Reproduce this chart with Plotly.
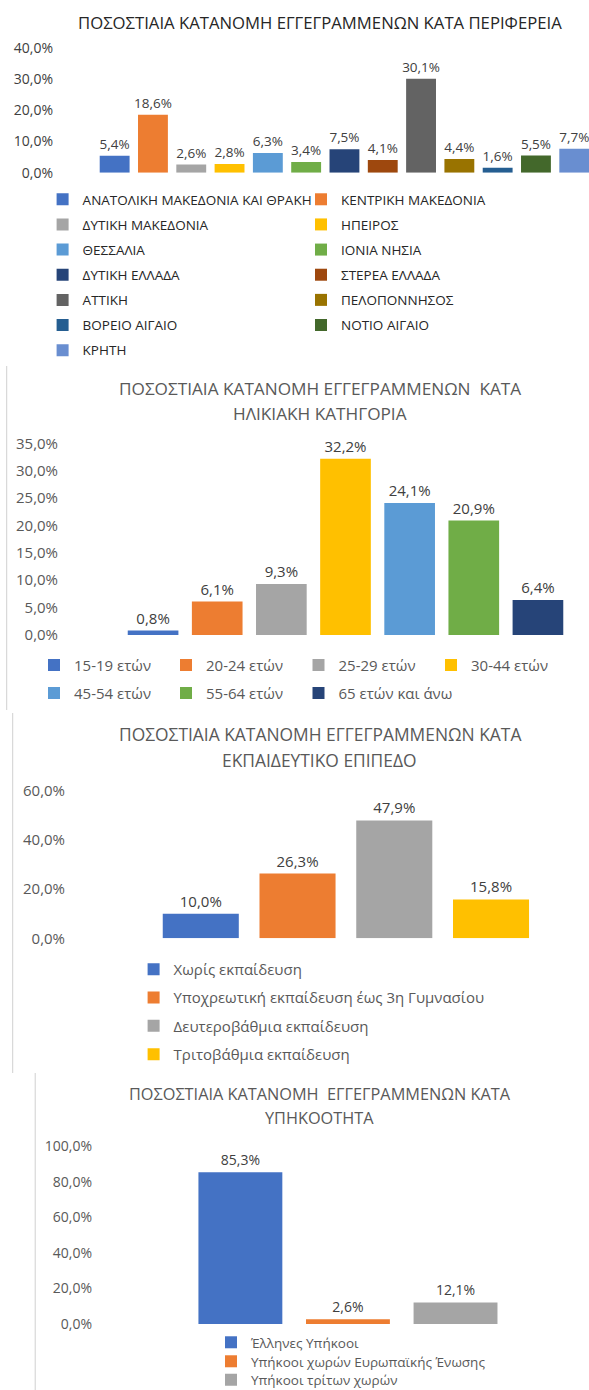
import plotly.graph_objects as go

W, H = 589, 1390
def fx(x): return x / W
def fy(y): return 1 - y / H

FONT = "Open Sans"

# ---------------- data ----------------
region_names = ["ΑΝΑΤΟΛΙΚΗ ΜΑΚΕΔΟΝΙΑ ΚΑΙ ΘΡΑΚΗ", "ΚΕΝΤΡΙΚΗ ΜΑΚΕΔΟΝΙΑ", "ΔΥΤΙΚΗ ΜΑΚΕΔΟΝΙΑ",
                "ΗΠΕΙΡΟΣ", "ΘΕΣΣΑΛΙΑ", "ΙΟΝΙΑ ΝΗΣΙΑ", "ΔΥΤΙΚΗ ΕΛΛΑΔΑ", "ΣΤΕΡΕΑ ΕΛΛΑΔΑ",
                "ΑΤΤΙΚΗ", "ΠΕΛΟΠΟΝΝΗΣΟΣ", "ΒΟΡΕΙΟ ΑΙΓΑΙΟ", "ΝΟΤΙΟ ΑΙΓΑΙΟ", "ΚΡΗΤΗ"]
region_values = [5.4, 18.6, 2.6, 2.8, 6.3, 3.4, 7.5, 4.1, 30.1, 4.4, 1.6, 5.5, 7.7]
region_colors = ["#4472C4", "#ED7D31", "#A5A5A5", "#FFC000", "#5B9BD5", "#70AD47", "#264478",
                 "#9E480E", "#636363", "#997300", "#255E91", "#43682B", "#698ED0"]
region_ticks = [0, 10, 20, 30, 40]

age_names = ["15-19 ετών", "20-24 ετών", "25-29 ετών", "30-44 ετών",
             "45-54 ετών", "55-64 ετών", "65 ετών και άνω"]
age_values = [0.8, 6.1, 9.3, 32.2, 24.1, 20.9, 6.4]
age_colors = ["#4472C4", "#ED7D31", "#A5A5A5", "#FFC000", "#5B9BD5", "#70AD47", "#264478"]
age_ticks = [0, 5, 10, 15, 20, 25, 30, 35]

edu_names = ["Χωρίς εκπαίδευση", "Υποχρεωτική εκπαίδευση έως 3η Γυμνασίου",
             "Δευτεροβάθμια εκπαίδευση", "Τριτοβάθμια εκπαίδευση"]
edu_values = [10.0, 26.3, 47.9, 15.8]
edu_colors = ["#4472C4", "#ED7D31", "#A5A5A5", "#FFC000"]
edu_ticks = [0, 20, 40, 60]

nat_names = ["Έλληνες Υπήκοοι", "Υπήκοοι χωρών Ευρωπαϊκής Ένωσης", "Υπήκοοι τρίτων χωρών"]
nat_values = [85.3, 2.6, 12.1]
nat_colors = ["#4472C4", "#ED7D31", "#A5A5A5"]
nat_ticks = [0, 20, 40, 60, 80, 100]

titles = [
    ["ΠΟΣΟΣΤΙΑΙΑ ΚΑΤΑΝΟΜΗ ΕΓΓΕΓΡΑΜΜΕΝΩΝ ΚΑΤΑ ΠΕΡΙΦΕΡΕΙΑ"],
    ["ΠΟΣΟΣΤΙΑΙΑ ΚΑΤΑΝΟΜΗ ΕΓΓΕΓΡΑΜΜΕΝΩΝ\u00a0 ΚΑΤΑ", "ΗΛΙΚΙΑΚΗ ΚΑΤΗΓΟΡΙΑ"],
    ["ΠΟΣΟΣΤΙΑΙΑ ΚΑΤΑΝΟΜΗ ΕΓΓΕΓΡΑΜΜΕΝΩΝ ΚΑΤΑ", "ΕΚΠΑΙΔΕΥΤΙΚΟ ΕΠΙΠΕΔΟ"],
    ["ΠΟΣΟΣΤΙΑΙΑ ΚΑΤΑΝΟΜΗ\u00a0 ΕΓΓΕΓΡΑΜΜΕΝΩΝ ΚΑΤΑ", "ΥΠΗΚΟΟΤΗΤΑ"],
]

def pct(v):
    return ("%.1f%%" % v).replace(".", ",")

# ---------------- layout geometry (pixels) ----------------
panels = [
    dict(names=region_names, values=region_values, colors=region_colors, ticks=region_ticks,
         xdom=(95.5, 589), xrange=(-0.5, 12.385), ydom=(48, 172.7), yrange=(0, 40),
         width=0.78, ypos=53, tickfont=14, tickcolor="#404040", labfont=13.5, labcolor="#404040",
         title_y=[22], title_size=16.7, title_color="#262626",
         legends=lambda i: "legend" if i % 2 == 0 else "legend2"),
    dict(names=age_names, values=age_values, colors=age_colors, ticks=age_ticks,
         xdom=(121, 570), xrange=(-0.5, 6.5), ydom=(443.3, 635), yrange=(0, 35),
         width=0.79, ypos=58, tickfont=15, tickcolor="#595959", labfont=15, labcolor="#404040",
         title_y=[388, 413], title_size=17.2, title_color="#595959",
         legends=lambda i: ["legend3", "legend4", "legend5", "legend6"][i % 4]),
    dict(names=edu_names, values=edu_values, colors=edu_colors, ticks=edu_ticks,
         xdom=(152.4, 539.4), xrange=(-0.5, 3.5), ydom=(790.7, 938.3), yrange=(0, 60),
         width=0.786, ypos=65, tickfont=15, tickcolor="#595959", labfont=15, labcolor="#404040",
         title_y=[734, 760], title_size=17.4, title_color="#595959",
         legends=lambda i: "legend7"),
    dict(names=nat_names, values=nat_values, colors=nat_colors, ticks=nat_ticks,
         xdom=(186.6, 509.3), xrange=(-0.5, 2.5), ydom=(1146, 1324), yrange=(0, 100),
         width=0.78, ypos=92, tickfont=14, tickcolor="#595959", labfont=14, labcolor="#404040",
         title_y=[1094, 1118], title_size=16.3, title_color="#595959",
         legends=lambda i: ["legend8", "legend9", "legend10"][i]),
]

fig = go.Figure()
annotations = []
layout_axes = {}

for k, p in enumerate(panels):
    sfx = "" if k == 0 else str(k + 1)
    xref, yref = "x" + sfx, "y" + sfx
    for i, (nm, v, c) in enumerate(zip(p["names"], p["values"], p["colors"])):
        fig.add_trace(go.Bar(
            x=[i], y=[v], width=[p["width"]], name=nm,
            marker=dict(color=c, line=dict(width=0)),
            texttemplate="%{y:.1f}%", textposition="outside", constraintext="none",
            cliponaxis=False,
            outsidetextfont=dict(family=FONT, size=p["labfont"], color=p["labcolor"]),
            xaxis=xref, yaxis=yref, legend=p["legends"](i), legendgroup="g%d_%d" % (k, i),
            hoverinfo="skip",
        ))
    layout_axes["xaxis" + sfx] = dict(domain=[fx(p["xdom"][0]), fx(p["xdom"][1])],
                                      range=list(p["xrange"]), anchor=yref, visible=False)
    layout_axes["yaxis" + sfx] = dict(domain=[fy(p["ydom"][1]), fy(p["ydom"][0])],
                                      range=list(p["yrange"]), anchor="free", position=fx(p["ypos"]),
                                      tickmode="array", tickvals=p["ticks"],
                                      ticktext=[pct(t) for t in p["ticks"]],
                                      showgrid=False, zeroline=False, showline=False, ticks="",
                                      automargin=False,
                                      tickfont=dict(family=FONT, size=p["tickfont"], color=p["tickcolor"]))
    for line, ty in zip(titles[k], p["title_y"]):
        annotations.append(dict(text=line, x=fx(319.5), y=fy(ty), xref="paper", yref="paper",
                                xanchor="center", yanchor="middle", showarrow=False,
                                font=dict(family=FONT, size=p["title_size"], color=p["title_color"])))

def vlegend(x, top, size, gap, color):
    return dict(x=fx(x), y=fy(top), xanchor="left", yanchor="top", orientation="v",
                traceorder="grouped", tracegroupgap=gap, bgcolor="rgba(0,0,0,0)",
                font=dict(family=FONT, size=size, color=color), borderwidth=0)

legends = dict(
    legend=vlegend(42.6, 184, 13.5, 4.6, "#262626"),
    legend2=vlegend(301, 184, 13.5, 4.6, "#262626"),
    legend3=vlegend(34, 648.7, 15, 5.5, "#595959"),
    legend4=vlegend(166, 648.7, 15, 5.5, "#595959"),
    legend5=vlegend(298.5, 648.7, 15, 5.5, "#595959"),
    legend6=vlegend(431, 648.7, 15, 5.5, "#595959"),
    legend7=vlegend(133.6, 953, 15, 5.8, "#595959"),
    legend8=vlegend(211, 1327, 13.5, 0, "#595959"),
    legend9=vlegend(211, 1346, 13.5, 0, "#595959"),
    legend10=vlegend(211, 1364.4, 13.5, 0, "#595959"),
)

shapes = [
    dict(type="line", xref="paper", yref="paper", x0=fx(6.7), x1=fx(6.7), y0=fy(366), y1=fy(710),
         line=dict(color="#D0D0D0", width=1)),
    dict(type="line", xref="paper", yref="paper", x0=fx(12.7), x1=fx(12.7), y0=fy(713), y1=fy(1073),
         line=dict(color="#D0D0D0", width=1)),
    dict(type="line", xref="paper", yref="paper", x0=fx(35.2), x1=fx(35.2), y0=fy(1073), y1=fy(1390),
         line=dict(color="#D0D0D0", width=1)),
]

fig.update_layout(
    width=W, height=H, margin=dict(l=0, r=0, t=0, b=0, pad=0, autoexpand=False),
    paper_bgcolor="white", plot_bgcolor="rgba(0,0,0,0)",
    barmode="overlay", separators=",.", showlegend=True,
    font=dict(family=FONT, color="#595959"),
    annotations=annotations, shapes=shapes,
    **layout_axes, **legends,
)

fig.write_html("out.html", config={"displayModeBar": False},
               post_script="document.body.style.margin='0px';document.body.style.padding='0px';")
